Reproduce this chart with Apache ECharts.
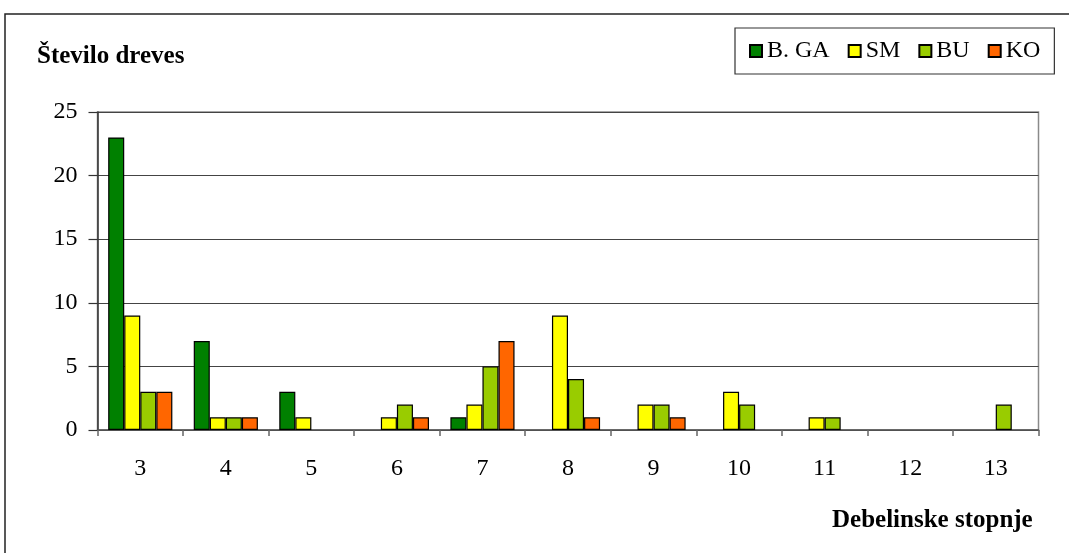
<!DOCTYPE html>
<html>
<head>
<meta charset="utf-8">
<script src="https://cdn.jsdelivr.net/npm/echarts@6/dist/echarts.min.js"></script>
<style>
  html, body { margin: 0; padding: 0; background: #fff; }
  #chart { width: 1069px; height: 553px; }
</style>
</head>
<body>
<div id="chart"></div>
<script>
// Diameter classes and tree counts per species
const categories = ['3', '4', '5', '6', '7', '8', '9', '10', '11', '12', '13'];
const seriesNames = ['B. GA', 'SM', 'BU', 'KO'];
const valuesGA = [23, 7, 3, 0, 1, 0, 0, 0, 0, 0, 0];
const valuesSM = [9, 1, 1, 1, 2, 9, 2, 3, 1, 0, 0];
const valuesBU = [3, 1, 0, 2, 5, 4, 2, 2, 1, 0, 2];
const valuesKO = [3, 1, 0, 1, 7, 1, 1, 0, 0, 0, 0];
const yTicks = [0, 5, 10, 15, 20, 25];

const colors = ['#008000', '#FFFF00', '#99CC00', '#FF6600'];
const allValues = [valuesGA, valuesSM, valuesBU, valuesKO];
const font = '"Liberation Serif", "Times New Roman", serif';

const chart = echarts.init(document.getElementById('chart'), null, { renderer: 'canvas' });

const series = seriesNames.map((name, i) => ({
  name: name,
  type: 'bar',
  data: allValues[i].map(v => (v === 0 ? null : v)),
  barGap: '0%',
  barCategoryGap: '25%',
  itemStyle: { color: colors[i], borderColor: '#000', borderWidth: 1.2 },
  emphasis: { disabled: true },
  animation: false
}));

chart.setOption({
  animation: false,
  textStyle: { fontFamily: font },
  grid: {
    left: 97.5, right: 30.5, top: 112, bottom: 123,
    show: true, borderColor: '#8a8a8a', borderWidth: 1.5, backgroundColor: 'transparent'
  },
  legend: {
    left: 735, top: 28,
    data: seriesNames,
    icon: 'rect',
    itemWidth: 12, itemHeight: 12,
    itemGap: 18,
    padding: [11, 14, 11, 14],
    borderColor: '#333', borderWidth: 1.2,
    textStyle: { fontFamily: font, fontSize: 24, color: '#000' },
    selectedMode: false
  },
  xAxis: {
    type: 'category',
    data: categories,
    axisLine: { lineStyle: { color: '#555', width: 1.5 } },
    axisTick: { show: true, length: 6, lineStyle: { color: '#666', width: 1.5 } },
    axisLabel: { margin: 27, fontSize: 24, color: '#000', fontFamily: font },
    splitLine: { show: false }
  },
  yAxis: {
    type: 'value',
    min: yTicks[0], max: yTicks[yTicks.length - 1], interval: 5,
    axisLine: { show: true, lineStyle: { color: '#333', width: 1.5 } },
    axisTick: { show: true, length: 9, lineStyle: { color: '#333', width: 1.2 } },
    axisLabel: { margin: 20, fontSize: 24, color: '#000', fontFamily: font },
    splitLine: { show: true, lineStyle: { color: '#444', width: 1 } }
  },
  graphic: [
    {
      type: 'rect',
      shape: { x: 5, y: 14, width: 1100, height: 600 },
      style: { fill: 'none', stroke: '#222', lineWidth: 1.5 },
      silent: true
    },
    {
      type: 'text',
      left: 37, top: 44,
      style: { text: 'Število dreves', font: 'bold 25px ' + font, fill: '#000' }
    },
    {
      type: 'text',
      left: 832, top: 508,
      style: { text: 'Debelinske stopnje', font: 'bold 25px ' + font, fill: '#000' }
    }
  ],
  series: series
});
</script>
</body>
</html>
